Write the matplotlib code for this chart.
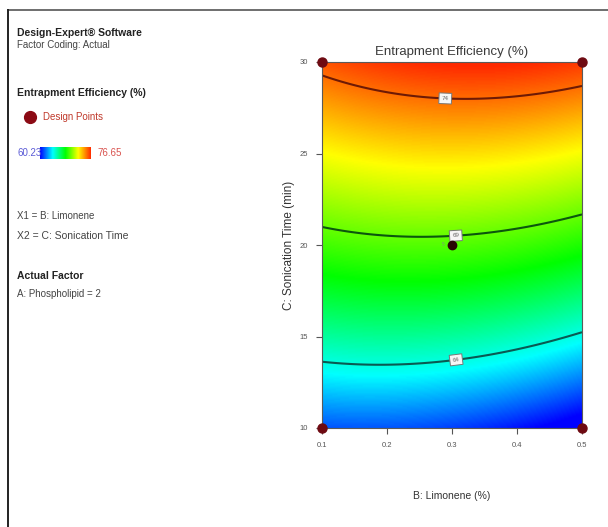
import numpy as np
import matplotlib
matplotlib.use("Agg")
import matplotlib.pyplot as plt
from matplotlib.colors import LinearSegmentedColormap
from matplotlib.lines import Line2D

# ── Fitted model (coded units: x = (B-0.3)/0.2, y = (C-20)/10) ───────────────
MODEL_TERMS = ["b0", "B", "C", "BC", "B2", "C2"]
MODEL_COEFS = [68.65, -0.31, 7.075, 0.545, -0.60, -0.48]

B_RANGE = [0.1, 0.5]
C_RANGE = [10, 30]
RESP_MIN, RESP_MAX = 60.23, 76.65
CONTOUR_LEVELS = [64, 69, 74]
LEVEL_COLORS = ["#0a5a52", "#0b560e", "#6e1a05"]
LABEL_POS = [(0.305, 14.1), (0.305, 21.0), (0.29, 28.3)]

# design points (B, C)
DP_B = [0.1, 0.5, 0.1, 0.5]
DP_C = [10, 10, 30, 30]
CENTER_B, CENTER_C, CENTER_REPS = 0.3, 20, 5

X_TICKS = [0.1, 0.2, 0.3, 0.4, 0.5]
Y_TICKS = [10, 15, 20, 25, 30]

# Design-Expert style palette (blue → cyan → green → yellow → red)
DE_STOPS = [0.0, 0.2, 0.43, 0.69, 0.91, 1.0]
DE_COLORS = ["#0000ff", "#00ffff", "#00ff00", "#ffff00", "#ff2a00", "#ff1a00"]
cmap = LinearSegmentedColormap.from_list("de", list(zip(DE_STOPS, DE_COLORS)))
bar_cmap = LinearSegmentedColormap.from_list(
    "bar", ["#0000ff", "#00ffff", "#00ff00", "#ffff00", "#ff2a00"])

plt.rcParams["font.family"] = ["Liberation Sans", "DejaVu Sans"]


def predict(b, c):
    x = (b - 0.3) / 0.2
    y = (c - 20) / 10
    k = dict(zip(MODEL_TERMS, MODEL_COEFS))
    return (k["b0"] + k["B"] * x + k["C"] * y + k["BC"] * x * y
            + k["B2"] * x ** 2 + k["C2"] * y ** 2)


fig = plt.figure(figsize=(6.08, 5.27), dpi=100)
fig.patch.set_facecolor("white")

# outer frame (top + left only)
fig.add_artist(Line2D([8 / 608, 1], [1 - 10 / 527, 1 - 10 / 527],
                      color="#555555", lw=1.2, transform=fig.transFigure))
fig.add_artist(Line2D([8 / 608, 8 / 608], [0, 1 - 10 / 527],
                      color="#222222", lw=1.4, transform=fig.transFigure))

# ── Left info panel ─────────────────────────────────────────────────────────
def ftxt(px, py, s, **kw):
    fig.text(px / 608, 1 - py / 527, s, va="center", ha="left", **kw)

ftxt(17, 33, "Design-Expert® Software", fontsize=7.5, fontweight="bold", color="#222222")
ftxt(17, 45, "Factor Coding: Actual", fontsize=7, color="#444444")
ftxt(17, 93, "Entrapment Efficiency (%)", fontsize=7.5, fontweight="bold", color="#222222")
fig.add_artist(Line2D([30 / 608], [1 - 117 / 527], marker="o", markersize=8.5,
                      color="#8b0a14", transform=fig.transFigure))
ftxt(43, 117, "Design Points", fontsize=7, color="#c0392b")
ftxt(17, 153, f"{RESP_MIN:.2f}", fontsize=7, color="#5b5bd6")
ftxt(97, 153, f"{RESP_MAX:.2f}", fontsize=7, color="#d9534f")
cax = fig.add_axes([40 / 608, 1 - 159 / 527, 51 / 608, 12 / 527])
cax.imshow(np.linspace(0, 1, 256)[None, :], aspect="auto", cmap=bar_cmap)
cax.set_axis_off()
ftxt(17, 216, "X1 = B: Limonene", fontsize=7, color="#444444")
ftxt(17, 236, "X2 = C: Sonication Time", fontsize=7.5, color="#444444")
ftxt(17, 276, "Actual Factor", fontsize=7.5, fontweight="bold", color="#222222")
ftxt(17, 294, "A: Phospholipid = 2", fontsize=7, color="#444444")

# ── Contour plot ────────────────────────────────────────────────────────────
ax = fig.add_axes([322 / 608, 1 - 428 / 527, 260 / 608, 366 / 527])
bb = np.linspace(*B_RANGE, 300)
cc = np.linspace(*C_RANGE, 300)
BB, CC = np.meshgrid(bb, cc)
ZZ = predict(BB, CC)
ax.imshow(ZZ, extent=[*B_RANGE, *C_RANGE], origin="lower", aspect="auto",
          cmap=cmap, vmin=RESP_MIN, vmax=RESP_MAX, interpolation="bilinear")
cs = ax.contour(BB, CC, ZZ, levels=CONTOUR_LEVELS, colors=LEVEL_COLORS,
                linewidths=1.5)
labels = ax.clabel(cs, fmt="%d", fontsize=4.5, inline=False, manual=LABEL_POS,
                   colors="#666666")
for t in labels:
    t.set_bbox(dict(boxstyle="square,pad=0.45", fc="#f6f6f6", ec="#777777", lw=0.7))

ax.plot(DP_B, DP_C, "o", color="#6e0a12", markersize=6.5, clip_on=False, zorder=5)
ax.plot([CENTER_B], [CENTER_C], "o", color="#2a0505", markersize=6, zorder=5)
ax.text(CENTER_B - 0.012, CENTER_C, str(CENTER_REPS), fontsize=3.5,
        color="#7a9a7a", ha="right", va="center")

ax.set_xlim(*B_RANGE)
ax.set_ylim(*C_RANGE)
ax.set_xticks(X_TICKS)
ax.set_yticks(Y_TICKS)
ax.set_xticklabels([f"{v:.1f}" for v in X_TICKS])
ax.set_yticklabels([str(v) for v in Y_TICKS])
ax.tick_params(labelsize=5.5, colors="#555555", length=4, width=0.8, pad=6)
for s in ax.spines.values():
    s.set_color("#5a5a5a")
    s.set_linewidth(0.8)

ax.set_title("Entrapment Efficiency (%)", fontsize=9.5, color="#3a3a3a", pad=5)
ax.set_xlabel("B: Limonene (%)", fontsize=7.5, color="#333333", labelpad=30)
ax.set_ylabel("C: Sonication Time (min)", fontsize=8.5, color="#333333", labelpad=3)

fig.savefig("out.png", dpi=100)
